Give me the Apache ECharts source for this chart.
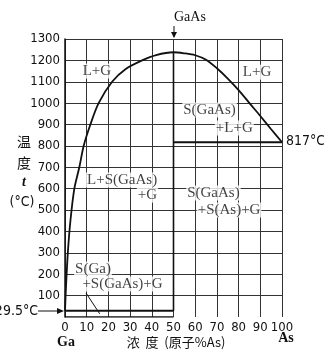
<!DOCTYPE html>
<html>
<head>
<meta charset="utf-8">
<script src="https://cdn.jsdelivr.net/npm/echarts@6/dist/echarts.min.js"></script>
<style>
  html, body { margin: 0; padding: 0; background: #fff; }
  #chart { width: 324px; height: 353px; }
</style>
</head>
<body>
<div id="chart"></div>
<script>
// Ga–As phase diagram: composition (atomic % As) vs temperature (°C)
const xTicks = [0, 10, 20, 30, 40, 50, 60, 70, 80, 90, 100];
const yTicks = [0, 100, 200, 300, 400, 500, 600, 700, 800, 900, 1000, 1100, 1200, 1300];

// liquidus, Ga-rich branch (x = at.% As, y = °C)
const liquidusGaX = [0, 0.5, 1.3, 2.5, 4.3, 6.6, 8.6, 11.7, 15.5, 21.7, 28.0, 35.5, 42.0, 50.0];
const liquidusGaT = [29.5, 150, 300, 450, 600, 700, 800, 900, 1000, 1100, 1160, 1200, 1225, 1238];
// liquidus, As-rich branch
const liquidusAsX = [50.0, 55.0, 60.0, 65.0, 70.0, 75.0, 80.0, 85.0, 90.0, 95.0, 100.0];
const liquidusAsT = [1238, 1233, 1224, 1203, 1163, 1115, 1061, 1000, 940, 878, 817];

const compoundX = 50;       // GaAs
const meltGaAs = 1238;
const eutecticAs = 817;
const eutecticGa = 29.5;

// phase-field labels: text, x, y
const fieldText = ['L+G', 'L+G', 'S(GaAs)', '+L+G', 'L+S(GaAs)', '+G', 'S(GaAs)', '+S(As)+G', 'S(Ga)', '+S(GaAs)+G'];
const fieldX    = [14.7, 88.5, 66.6, 78.0, 26.3, 38.0, 68.4, 75.6, 12.9, 26.5];
const fieldY    = [1150, 1145, 968, 884, 641, 570, 580, 500, 224, 154];

const liquidus = liquidusGaX.map((x, i) => [x, liquidusGaT[i]])
  .concat(liquidusAsX.slice(1).map((x, i) => [x, liquidusAsT[i + 1]]));

const fields = fieldText.map((t, i) => ({ value: [fieldX[i], fieldY[i]], name: t }));

const ink = '#111';
const tickFont = '"DejaVu Sans Condensed", "DejaVu Sans", sans-serif';
const labelFont = '"Liberation Serif", "DejaVu Serif", serif';
const cjkFont = '"Noto Sans CJK SC", sans-serif';

function seg(data, width) {
  return {
    type: 'line', data: data, symbol: 'none', silent: true,
    lineStyle: { color: ink, width: width }, z: 5
  };
}

const chart = echarts.init(document.getElementById('chart'), null, { renderer: 'canvas' });
chart.setOption({
  animation: false,
  backgroundColor: '#fff',
  grid: { left: 65, right: 42, top: 39, bottom: 36 },
  xAxis: {
    type: 'value', min: xTicks[0], max: xTicks[xTicks.length - 1], interval: 10,
    axisLine: { show: false },
    axisTick: { show: false },
    axisLabel: { color: ink, fontFamily: tickFont, fontSize: 13, margin: 4, formatter: v => String(v) },
    splitLine: { show: true, lineStyle: { color: '#333', width: 1 } }
  },
  yAxis: {
    type: 'value', min: yTicks[0], max: yTicks[yTicks.length - 1], interval: 100,
    axisLine: { show: true, lineStyle: { color: ink, width: 1.5 } },
    axisTick: { show: false },
    axisLabel: {
      color: ink, fontFamily: tickFont, fontSize: 13, margin: 5,
      showMinLabel: false, formatter: v => String(v)
    },
    splitLine: { show: true, showMinLine: false, lineStyle: { color: '#333', width: 1 } }
  },
  series: [
    Object.assign(seg(liquidus, 1.8), { smooth: 0.3 }),
    seg([[compoundX, eutecticGa], [compoundX, meltGaAs]], 1.6),
    seg([[compoundX, eutecticAs], [100, eutecticAs]], 2),
    seg([[0, eutecticGa], [compoundX, eutecticGa]], 2),
    seg([[0, 0], [compoundX, 0]], 1.5),
    seg([[9.7, 112], [16, 15]], 1),
    {
      type: 'scatter', data: fields, symbolSize: 0, silent: true, z: 10,
      label: {
        show: true, position: 'inside', formatter: p => p.name,
        color: ink, fontFamily: labelFont, fontSize: 15,
        backgroundColor: '#fff', padding: [0, 1]
      }
    }
  ],
  graphic: [
    { type: 'text', left: 174, top: 10, style: { text: 'GaAs', font: '14px ' + labelFont, fill: ink, textAlign: 'center' } },
    { type: 'line', shape: { x1: 174, y1: 26, x2: 174, y2: 37 }, style: { stroke: ink, lineWidth: 1 } },
    { type: 'polygon', shape: { points: [[171, 32], [177, 32], [174, 38]] }, style: { fill: ink } },

    { type: 'text', x: 38, y: 304, style: { text: '29.5°C', font: '14px ' + tickFont, fill: ink, textAlign: 'right' } },
    { type: 'line', shape: { x1: 38, y1: 311, x2: 62, y2: 311 }, style: { stroke: ink, lineWidth: 1 } },
    { type: 'polygon', shape: { points: [[57, 308], [57, 314], [64, 311]] }, style: { fill: ink } },

    { type: 'text', x: 286, y: 134, style: { text: '817°C', font: '14px ' + tickFont, fill: ink } },

    { type: 'text', x: 24, y: 135, style: { text: '温', font: '14px ' + cjkFont, fill: ink, textAlign: 'center' } },
    { type: 'text', x: 24, y: 156, style: { text: '度', font: '14px ' + cjkFont, fill: ink, textAlign: 'center' } },
    { type: 'text', x: 24, y: 175, style: { text: 't', font: 'italic bold 14px ' + labelFont, fill: ink, textAlign: 'center' } },
    { type: 'text', x: 22, y: 195, style: { text: '(°C)', font: '14px ' + tickFont, fill: ink, textAlign: 'center' } },

    { type: 'text', x: 66, y: 335, style: { text: 'Ga', font: 'bold 14px ' + labelFont, fill: ink, textAlign: 'center' } },
    { type: 'text', x: 286, y: 331, style: { text: 'As', font: 'bold 14px ' + labelFont, fill: ink, textAlign: 'center' } },
    { type: 'text', x: 176, y: 336, style: { text: '浓  度  (原子%As)', font: '13px ' + cjkFont, fill: ink, textAlign: 'center' } }
  ]
});
</script>
</body>
</html>
